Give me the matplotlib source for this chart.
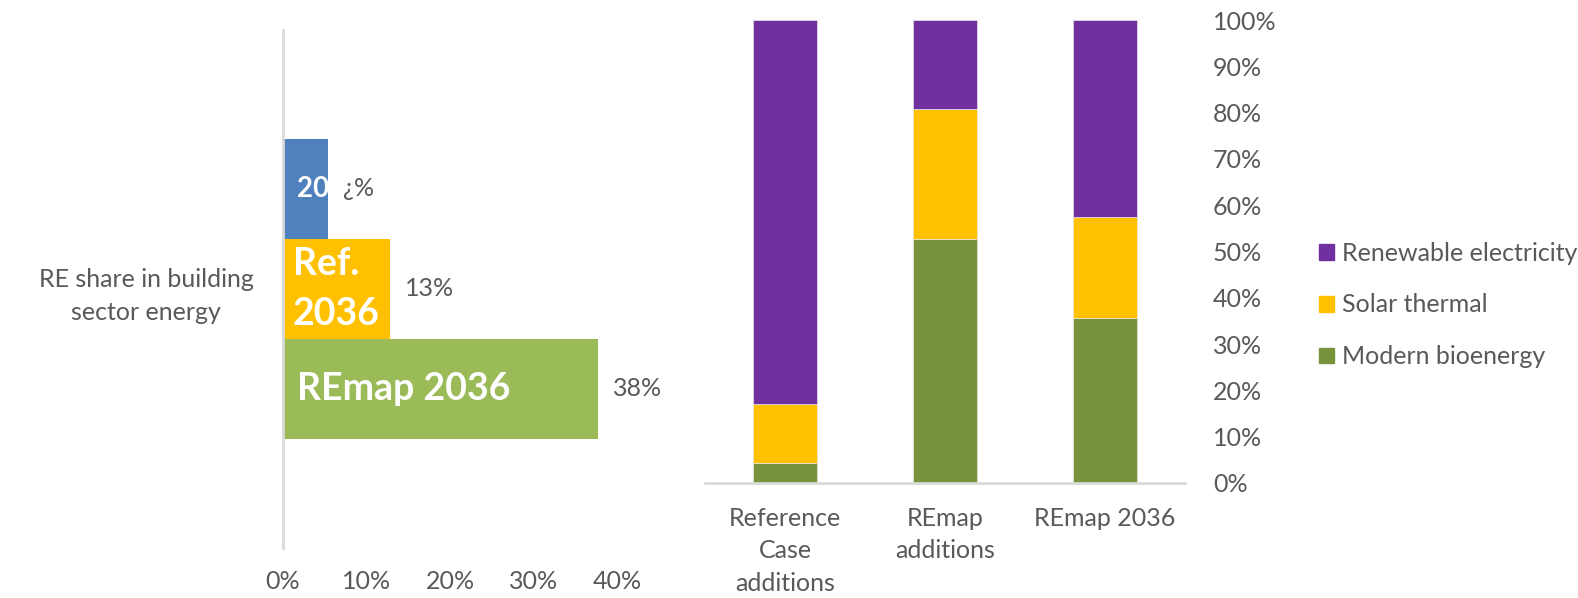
import matplotlib.pyplot as plt
from matplotlib.patches import Patch

plt.rcParams['font.family'] = ['Lato', 'DejaVu Sans']
grey = '#595959'

# left panel: RE share in building sector energy
share_cats = ['20', 'Ref.\n2036', 'REmap 2036']
share_vals = [5.4, 12.8, 37.7]
share_text = ['\u00bf%', '13%', '38%']
share_cols = ['#4F81BD', '#FFC000', '#9BBB59']
share_ypos = [1, 0, -1]
share_sizes = [20, 27, 27]
share_pads = [10, 7, 10]
left_ticks = [0, 10, 20, 30, 40]

# right panel: composition of RE in buildings
mix_cats = ['Reference\nCase\nadditions', 'REmap\nadditions', 'REmap 2036']
bioenergy = [4.3, 52.8, 35.7]
solar = [12.8, 27.9, 21.8]
electricity = [82.9, 19.3, 42.5]
right_ticks = [0, 10, 20, 30, 40, 50, 60, 70, 80, 90, 100]

fig = plt.figure(figsize=(15.78, 5.98), dpi=100)
ax1 = fig.add_axes([283/1578, 50/598, 334/1578, 518/598])
ax2 = fig.add_axes([705/1578, 115/598, 480/1578, 463/598])

# ---- left
ax1.barh(share_ypos, share_vals, height=1.0, color=share_cols)
for y, v, lab, txt, fs, p in zip(share_ypos, share_vals, share_cats, share_text,
                                  share_sizes, share_pads):
    ax1.annotate(lab, xy=(0, y), xytext=(p, 0), textcoords='offset points',
                 ha='left', va='center', color='white', fontsize=fs, fontweight='bold',
                 linespacing=1.6)
    ax1.annotate(txt, xy=(v, y), xytext=(11, 0), textcoords='offset points',
                 ha='left', va='center', color=grey, fontsize=18, annotation_clip=False)
ax1.set_xlim(0, 40)
ax1.set_ylim(-2.59, 2.59)
ax1.set_xticks(left_ticks)
ax1.set_xticklabels([f'{t}%' for t in left_ticks])
ax1.set_yticks([0])
ax1.set_yticklabels(['RE share in building\nsector energy'], linespacing=1.55)
for lbl in ax1.get_yticklabels():
    lbl.set_multialignment('center')
ax1.tick_params(axis='x', length=0, pad=16, labelsize=18, labelcolor=grey)
ax1.tick_params(axis='y', length=0, pad=21, labelsize=18, labelcolor=grey)
for s in ['top', 'right', 'bottom']:
    ax1.spines[s].set_visible(False)
ax1.spines['left'].set_color('#d9d9d9')
ax1.spines['left'].set_linewidth(2)

# ---- right
x = range(len(mix_cats))
w = 0.406
ax2.bar(x, bioenergy, w, color='#77933C', edgecolor='#e6e6e6', linewidth=0.5)
ax2.bar(x, solar, w, bottom=bioenergy, color='#FFC000', edgecolor='#e6e6e6', linewidth=0.5)
base = [a + b for a, b in zip(bioenergy, solar)]
ax2.bar(x, electricity, w, bottom=base, color='#7030A0', edgecolor='#e6e6e6', linewidth=0.5)
ax2.set_xlim(-0.5, 2.5)
ax2.set_ylim(0, 100)
ax2.set_xticks(list(x))
ax2.set_xticklabels(mix_cats, linespacing=1.52, va='top')
ax2.yaxis.tick_right()
ax2.set_yticks(right_ticks)
ax2.set_yticklabels([f'{t}%' for t in right_ticks])
ax2.tick_params(axis='x', length=0, pad=17, labelsize=18, labelcolor=grey)
ax2.tick_params(axis='y', length=0, pad=20, labelsize=18, labelcolor=grey)
for s in ['top', 'right', 'left']:
    ax2.spines[s].set_visible(False)
ax2.spines['bottom'].set_color('#d9d9d9')
ax2.spines['bottom'].set_linewidth(2)

handles = [Patch(color='#7030A0'), Patch(color='#FFC000'), Patch(color='#77933C')]
fig.legend(handles, ['Renewable electricity', 'Solar thermal', 'Modern bioenergy'],
           loc='center left', bbox_to_anchor=(1296/1578, 1 - 305/598), frameon=False,
           fontsize=18, labelcolor=grey, handlelength=0.6, handleheight=0.6,
           handletextpad=0.35, labelspacing=1.15)

fig.savefig('out.png', dpi=100)
